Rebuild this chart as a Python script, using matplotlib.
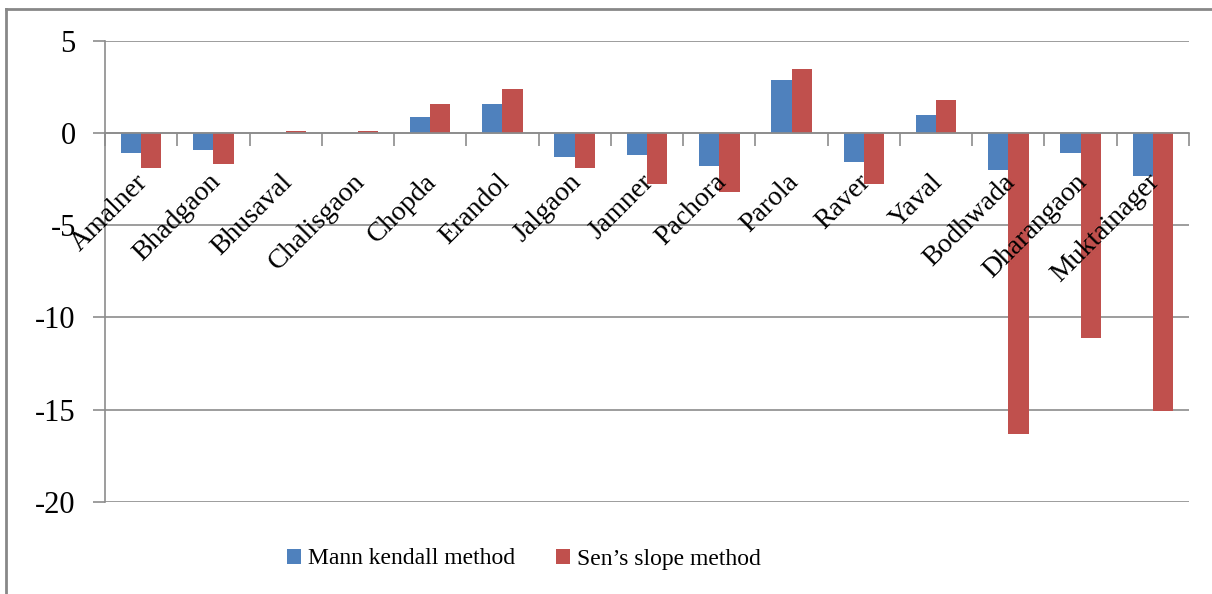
import matplotlib.pyplot as plt
import numpy as np
from matplotlib.patches import Patch
from matplotlib.lines import Line2D
from matplotlib.transforms import ScaledTranslation

# Data
stations = ['Amalner', 'Bhadgaon', 'Bhusaval', 'Chalisgaon', 'Chopda', 'Erandol',
            'Jalgaon', 'Jamner', 'Pachora', 'Parola', 'Raver', 'Yaval',
            'Bodhwada', 'Dharangaon', 'Muktainager']
mann_kendall = [-1.1, -0.9, 0.0, 0.0, 0.9, 1.6, -1.3, -1.2, -1.8, 2.9, -1.55, 1.0, -2.0, -1.1, -2.3]
sens_slope = [-1.9, -1.7, 0.1, 0.1, 1.6, 2.4, -1.9, -2.75, -3.2, 3.5, -2.75, 1.8, -16.3, -11.1, -15.1]
yticks = [5, 0, -5, -10, -15, -20]

blue = '#4F81BD'
red = '#C0504D'
grid_c = '#8C8C8C'

plt.rcParams['font.family'] = ['Liberation Serif', 'DejaVu Serif']

fig = plt.figure(figsize=(12.12, 5.94), dpi=100)
ax = fig.add_axes([105 / 1212, 1 - 501.7 / 594, (1189 - 105) / 1212, (501.7 - 41) / 594])

x = np.arange(len(stations))
w = 0.28
ax.bar(x - w / 2, mann_kendall, w, color=blue, label='Mann kendall method', zorder=3)
ax.bar(x + w / 2, sens_slope, w, color=red, label='Sen\u2019s slope method', zorder=3)

ax.set_xlim(-0.5, len(stations) - 0.5)
ax.set_ylim(-20, 5)
ax.set_yticks(yticks)
ax.set_yticklabels([str(v) for v in yticks], fontsize=22)
ax.yaxis.grid(True, color=grid_c, linewidth=1.2, zorder=0)
ax.tick_params(axis='y', length=9, width=1.2, color=grid_c, pad=12)

# x axis sits at zero, ticks between categories
for s in ['top', 'right']:
    ax.spines[s].set_visible(False)
ax.spines['bottom'].set_position(('data', 0))
ax.spines['bottom'].set_color(grid_c)
ax.spines['bottom'].set_linewidth(1.2)
ax.spines['bottom'].set_zorder(4)
ax.spines['left'].set_color(grid_c)
ax.spines['left'].set_linewidth(1.2)
ax.set_xticks(np.arange(len(stations) + 1) - 0.5)
ax.set_xticklabels([])
ax.tick_params(axis='x', length=9, width=1.2, color=grid_c, direction='out')

offset = ScaledTranslation(3 / 100, -45 / 100, fig.dpi_scale_trans)
for xi, name in zip(x, stations):
    ax.text(xi, 0, name, rotation=45, ha='right', va='center', rotation_mode='anchor',
            fontsize=20, transform=ax.transData + offset, zorder=5)

handles = [Patch(facecolor=blue), Patch(facecolor=red)]
fig.legend(handles, ['Mann kendall method', 'Sen\u2019s slope method'], loc='center',
           bbox_to_anchor=(524 / 1212, 1 - 559 / 594), ncol=2, frameon=False, fontsize=17,
           handlelength=0.6, handleheight=0.6, handletextpad=0.3, columnspacing=1.7)

# outer chart border (left and top visible)
fig.add_artist(Line2D([6 / 1212, 6 / 1212], [0, 1 - 9 / 594], transform=fig.transFigure,
                      color='#888888', linewidth=2))
fig.add_artist(Line2D([6 / 1212, 1], [1 - 9 / 594, 1 - 9 / 594], transform=fig.transFigure,
                      color='#888888', linewidth=2))

fig.savefig('out.png', dpi=100)
